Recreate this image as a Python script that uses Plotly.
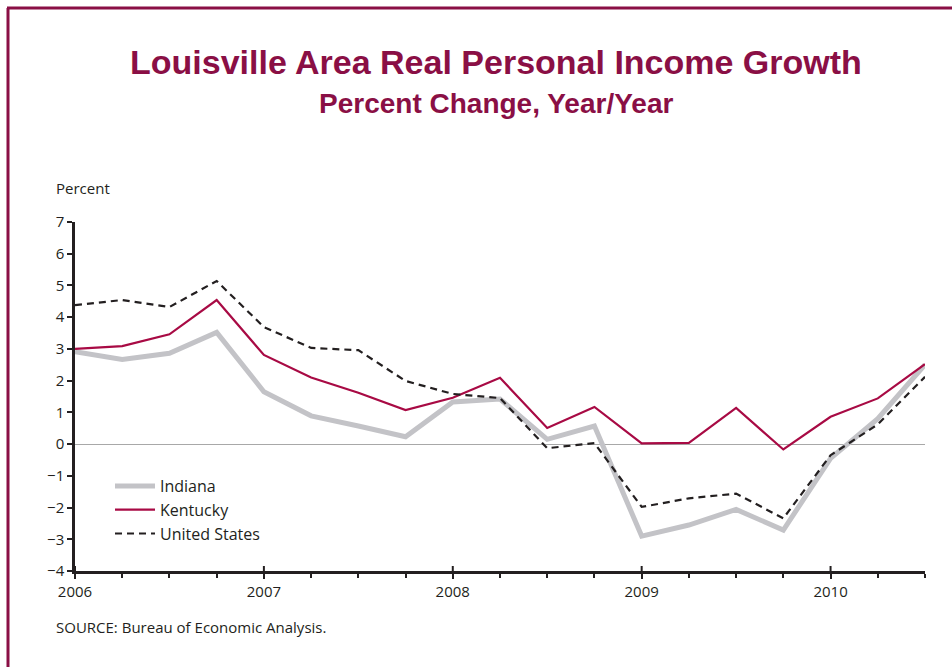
import plotly.graph_objects as go

# Quarterly observations, 2006 Q1 through 2010 Q3
quarters = [2006 + 0.25 * i for i in range(19)]

indiana = [2.91, 2.67, 2.86, 3.52, 1.65, 0.89, 0.57, 0.23, 1.33, 1.42,
           0.15, 0.57, -2.90, -2.55, -2.06, -2.71, -0.45, 0.80, 2.50]
kentucky = [3.00, 3.09, 3.46, 4.54, 2.81, 2.10, 1.62, 1.07, 1.46, 2.09,
            0.51, 1.17, 0.02, 0.04, 1.14, -0.17, 0.86, 1.44, 2.52]
united_states = [4.38, 4.54, 4.32, 5.14, 3.69, 3.03, 2.96, 1.99, 1.58, 1.45,
                 -0.13, 0.03, -1.98, -1.71, -1.56, -2.34, -0.35, 0.62, 2.12]

year_ticks = [2006, 2007, 2008, 2009, 2010]
year_labels = ["2006", "2007", "2008", "2009", "2010"]
y_ticks = list(range(-4, 8))
y_labels = [str(v).replace("-", "\u2212") for v in y_ticks]

MAROON = "#8A0F45"
KY_RED = "#A80A44"
IN_GRAY = "#C3C3C7"
INK = "#231F20"
TICK_FONT = dict(family="Open Sans, Lato, sans-serif", size=15, color=INK)
LEGEND_FONT = dict(family="Open Sans, Lato, sans-serif", size=16, color=INK)
HEAD_FONT = "Liberation Sans, Arial, sans-serif"

# plot area spans 75..925 px horizontally and 222..571 px vertically
PW, PH = 850, 349

fig = go.Figure()
fig.add_trace(go.Scatter(x=quarters, y=indiana, name="Indiana", mode="lines",
                         line=dict(color=IN_GRAY, width=5)))
fig.add_trace(go.Scatter(x=quarters, y=kentucky, name="Kentucky", mode="lines",
                         line=dict(color=KY_RED, width=2.2)))
fig.add_trace(go.Scatter(x=quarters, y=united_states, name="United States", mode="lines",
                         line=dict(color=INK, width=2.2, dash="7px,5px")))

# Year ticks also poke above the axis line
for yr in year_ticks:
    fig.add_shape(type="line", xref="x", yref="y", x0=yr, x1=yr,
                  ysizemode="pixel", yanchor=-4, y0=0, y1=5,
                  line=dict(color=INK, width=2))

# Frame rules along the top and left edges
fig.add_shape(type="line", xref="paper", yref="paper",
              x0=-68 / PW, x1=877 / PW, y0=1 + 214 / PH, y1=1 + 214 / PH,
              line=dict(color=MAROON, width=3))
fig.add_shape(type="line", xref="paper", yref="paper",
              x0=-67 / PW, x1=-67 / PW, y0=1 + 214 / PH, y1=-96 / PH,
              line=dict(color=MAROON, width=3))

fig.add_annotation(text="<b>Louisville Area Real Personal Income Growth</b>",
                   xref="paper", yref="paper", x=(496 - 75) / PW, y=1 + (222 - 62) / PH,
                   showarrow=False, xanchor="center", yanchor="middle",
                   font=dict(family=HEAD_FONT, size=34, color=MAROON))
fig.add_annotation(text="<b>Percent Change, Year/Year</b>",
                   xref="paper", yref="paper", x=(496 - 75) / PW, y=1 + (222 - 103) / PH,
                   showarrow=False, xanchor="center", yanchor="middle",
                   font=dict(family=HEAD_FONT, size=28, color=MAROON))
fig.add_annotation(text="Percent", xref="paper", yref="paper",
                   x=(54 - 75) / PW, y=1 + (222 - 188) / PH,
                   showarrow=False, xanchor="left", yanchor="middle", font=TICK_FONT)
fig.add_annotation(text="SOURCE: Bureau of Economic Analysis.", xref="paper", yref="paper",
                   x=(54 - 75) / PW, y=-(627 - 571) / PH,
                   showarrow=False, xanchor="left", yanchor="middle", font=TICK_FONT)

fig.update_layout(
    width=952, height=667,
    margin=dict(l=75, r=27, t=222, b=96, pad=0),
    paper_bgcolor="white", plot_bgcolor="white",
    font=TICK_FONT,
    showlegend=True,
    legend=dict(x=(110 - 75) / PW, y=(571 - 469) / PH,
                xanchor="left", yanchor="top", bgcolor="rgba(0,0,0,0)",
                font=LEGEND_FONT, tracegroupgap=0, itemwidth=40),
)
fig.update_xaxes(range=[2006, 2010.5], tickvals=year_ticks, ticktext=year_labels,
                 showgrid=False, zeroline=False, showline=True, linecolor=INK, linewidth=2.5,
                 ticks="outside", ticklen=5, tickwidth=2, tickcolor=INK,
                 minor=dict(tickvals=quarters + [2010.5], ticks="outside", ticklen=4,
                            tickwidth=2, tickcolor=INK, showgrid=False),
                 tickfont=TICK_FONT, fixedrange=True)
fig.update_yaxes(range=[-4, 7], tickvals=y_ticks, ticktext=y_labels,
                 showgrid=False, zeroline=True, zerolinecolor="#A8A8A8", zerolinewidth=1,
                 showline=True, linecolor=INK, linewidth=2.5,
                 ticks="outside", ticklen=5, tickwidth=2, tickcolor=INK,
                 tickfont=TICK_FONT, fixedrange=True)

fig.write_html("out.html")
